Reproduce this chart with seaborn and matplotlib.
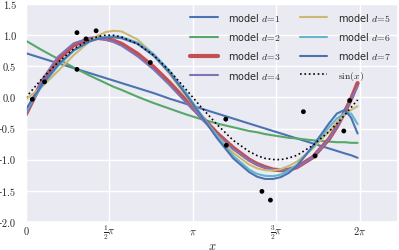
import numpy as np
import pandas as pd
import matplotlib
matplotlib.use("Agg")
import matplotlib.pyplot as plt
import seaborn as sns

# Valores
x_pts = [0.12, 0.35, 0.96, 0.96, 1.13, 1.32, 2.34, 3.76, 3.77, 4.44, 4.60, 5.22, 5.44, 5.98, 6.09]
y_pts = [-0.03, 0.25, 1.04, 0.45, 0.94, 1.07, 0.56, -0.35, -0.77, -1.51, -1.65, -0.23, -0.94, -0.54, -0.05]

x_curva = [0.0, 0.3, 0.6, 0.9, 1.2, 1.35, 1.5, 1.65, 1.8, 2.1, 2.4, 2.7, 3.0, 3.3, 3.6, 3.9,
           4.2, 4.35, 4.5, 4.65, 4.8, 4.95, 5.1, 5.4, 5.7, 5.85, 6.0, 6.12, 6.24]

y_d1 = [0.71, 0.63, 0.55, 0.47, 0.39, 0.35, 0.31, 0.27, 0.23, 0.15, 0.07, -0.02, -0.10, -0.18,
        -0.26, -0.34, -0.42, -0.46, -0.50, -0.54, -0.58, -0.62, -0.66, -0.74, -0.82, -0.86,
        -0.90, -0.93, -0.97]
y_d2 = [0.91, 0.76, 0.62, 0.48, 0.35, 0.29, 0.23, 0.17, 0.12, 0.01, -0.09, -0.18, -0.27, -0.35,
        -0.42, -0.48, -0.54, -0.56, -0.59, -0.61, -0.63, -0.65, -0.66, -0.69, -0.71, -0.72,
        -0.72, -0.73, -0.73]
y_d3 = [-0.27, 0.25, 0.61, 0.84, 0.94, 0.955, 0.94, 0.91, 0.86, 0.70, 0.49, 0.24, -0.04, -0.31,
        -0.58, -0.81, -1.00, -1.07, -1.12, -1.16, -1.17, -1.16, -1.12, -0.96, -0.67, -0.47,
        -0.23, -0.02, 0.23]
y_d4 = [-0.28, 0.27, 0.65, 0.87, 0.95, 0.95, 0.93, 0.89, 0.83, 0.66, 0.45, 0.20, -0.07, -0.34,
        -0.60, -0.83, -1.01, -1.08, -1.13, -1.16, -1.17, -1.155, -1.12, -0.96, -0.67, -0.47,
        -0.24, -0.03, 0.18]
y_d5 = [-0.03, 0.17, 0.42, 0.68, 0.90, 0.99, 1.05, 1.07, 1.06, 0.93, 0.69, 0.38, 0.04, -0.30,
        -0.62, -0.89, -1.08, -1.14, -1.17, -1.175, -1.15, -1.10, -1.03, -0.82, -0.55, -0.40,
        -0.28, -0.20, -0.14]
y_d6 = [-0.22, 0.18, 0.50, 0.75, 0.90, 0.945, 0.97, 0.98, 0.97, 0.88, 0.70, 0.43, 0.09, -0.28,
        -0.63, -0.94, -1.16, -1.23, -1.26, -1.265, -1.24, -1.17, -1.08, -0.80, -0.48, -0.34,
        -0.25, -0.26, -0.43]
y_d7 = [-0.19, 0.20, 0.52, 0.76, 0.90, 0.94, 0.96, 0.965, 0.95, 0.86, 0.67, 0.40, 0.06, -0.30,
        -0.66, -0.98, -1.20, -1.275, -1.31, -1.31, -1.28, -1.21, -1.10, -0.78, -0.42, -0.26,
        -0.20, -0.33, -0.58]
y_sin = [0.00, 0.30, 0.56, 0.78, 0.93, 0.976, 1.00, 0.997, 0.97, 0.86, 0.68, 0.43, 0.14, -0.16,
         -0.44, -0.69, -0.87, -0.935, -0.98, -0.998, -1.00, -0.972, -0.93, -0.77, -0.55, -0.42,
         -0.28, -0.16, -0.04]

modelos = [y_d1, y_d2, y_d3, y_d4, y_d5, y_d6, y_d7]

ticks_x = [0, np.pi / 2, np.pi, 3 * np.pi / 2, 2 * np.pi]
rotulos_x = [r"$0$", r"$\frac{1}{2}\pi$", r"$\pi$", r"$\frac{3}{2}\pi$", r"$2\pi$"]
ticks_y = [-2.0, -1.5, -1.0, -0.5, 0.0, 0.5, 1.0, 1.5]
rotulos_y = ["\u22122.0", "\u22121.5", "\u22121.0", "\u22120.5", "0.0", "0.5", "1.0", "1.5"]


def main():
    sns.set_theme(style="darkgrid")
    plt.rcParams["mathtext.fontset"] = "cm"
    cores = sns.color_palette("deep6")

    fig, ax = plt.subplots(figsize=(3.99, 2.51), dpi=100)
    fig.subplots_adjust(left=0.065, right=0.9975, bottom=0.112, top=0.98)

    for i, y in enumerate(modelos):
        d = i + 1
        lw = 3.0 if d == 3 else 1.5
        sns.lineplot(x=x_curva, y=y, ax=ax, color=cores[i % 6], lw=lw,
                     label=rf"model $d\!=\!{d}$", sort=False)
    sns.lineplot(x=x_curva, y=y_sin, ax=ax, color="black", lw=1.2, ls=":",
                 label=r"$\sin(x)$", sort=False)
    sns.scatterplot(x=x_pts, y=y_pts, ax=ax, color="black", s=12,
                    edgecolor="none", zorder=5)

    ax.set_xlim(0, 7)
    ax.set_ylim(-2.0, 1.5)
    ax.set_xticks(ticks_x)
    ax.set_xticklabels(rotulos_x, va="baseline")
    ax.set_yticks(ticks_y)
    ax.set_yticklabels(rotulos_y, fontfamily=["cmr10", "DejaVu Serif"])
    ax.tick_params(axis="y", labelsize=7.5, pad=1)
    ax.tick_params(axis="x", labelsize=7.5, pad=2.8)
    ax.set_xlabel(r"$x$", fontsize=9, va="top")
    ax.xaxis.set_label_coords(0.5, -0.078)

    ax.legend(loc="upper right", ncol=2, frameon=False, fontsize=7,
              handlelength=2.8, handletextpad=1.1, columnspacing=1.9,
              labelspacing=0.75, borderaxespad=0.3)

    plt.savefig("out.png")


if __name__ == "__main__":
    main()
